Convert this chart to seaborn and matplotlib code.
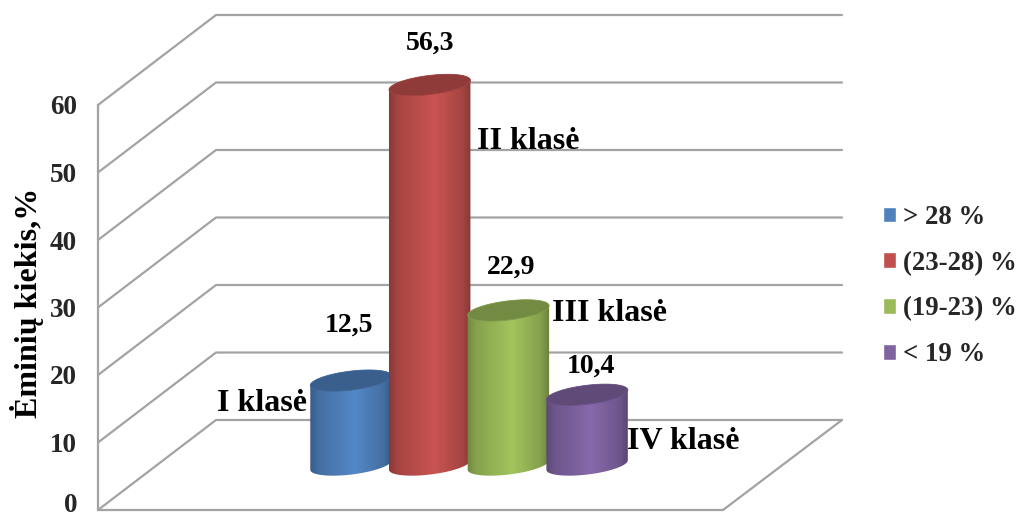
import numpy as np
import pandas as pd
import seaborn as sns
import matplotlib.pyplot as plt
from matplotlib.colors import to_rgb
from matplotlib.patches import Polygon
from matplotlib.transforms import ScaledTranslation

# Chart data
classes = ["I klasė", "II klasė", "III klasė", "IV klasė"]
ranges = ["> 28 %", "(23-28) %", "(19-23) %", "< 19 %"]
values = [12.5, 56.3, 22.9, 10.4]
value_labels = ["12,5", "56,3", "22,9", "10,4"]
colors = ["#4F81BD", "#C0504D", "#9BBB59", "#8064A2"]
y_ticks = [0, 10, 20, 30, 40, 50, 60]

# Pixel layout of the fake 3D box
W, H = 1018, 519
PX_X = 78.7  # pixels per category
PX_Y = 6.75  # pixels per percent
X0 = 351  # pixel of first bar centre
Y0 = 465  # pixel of value 0 in the bar plane
DEPTH_Y = 45 / PX_Y
GRID = "#a3a3a3"

# offsets of the text from the bar top centre, in pixels
value_offsets = [(-2, 55), (0, 42), (3, 43), (4, 29)]
class_offsets = [(-44, -23), (47, -57), (44, -3), (40, -47)]
class_aligns = ["right", "left", "left", "left"]


def to_x(px):
    return (px - X0) / PX_X


sns.set_theme(style="white")
plt.rcParams["font.family"] = ["Liberation Serif", "DejaVu Serif"]
plt.rcParams["font.weight"] = "bold"
plt.rcParams["axes.labelweight"] = "bold"

fig = plt.figure(figsize=(W / 100, H / 100), dpi=100)
ax = fig.add_axes([0, 0, 1, 1])

df = pd.DataFrame({"klase": classes, "range": ranges, "value": values})
sns.barplot(
    data=df,
    x="klase",
    y="value",
    hue="range",
    palette=colors,
    dodge=False,
    width=1.03,
    saturation=1,
    ax=ax,
)
sns.move_legend(
    ax,
    "upper left",
    bbox_to_anchor=(872 / W, 1 - 194 / H),
    bbox_transform=fig.transFigure,
    title=None,
    frameon=False,
    fontsize=19.3,
    handlelength=0.5,
    handleheight=0.5,
    handletextpad=0.25,
    labelspacing=0.78,
    borderaxespad=0,
)

# Back wall and floor
for v in y_ticks:
    ax.plot(
        [to_x(98), to_x(216), to_x(842)],
        [v - DEPTH_Y, v + DEPTH_Y, v + DEPTH_Y],
        color=GRID,
        lw=1.6,
        zorder=0.5,
    )
ax.plot(
    [to_x(842), to_x(723), to_x(98)],
    [DEPTH_Y, -DEPTH_Y, -DEPTH_Y],
    color=GRID,
    lw=1.6,
    zorder=0.5,
)

# Turn the flat bars into shaded cylinders
a, b, tilt = 41.0, 9.5, np.radians(7)
t_right = np.arctan2(-b * np.sin(tilt), a * np.cos(tilt))


def ellipse(t, xc, yc):
    dx = a * np.cos(t) * np.cos(tilt) - b * np.sin(t) * np.sin(tilt)
    dy = a * np.cos(t) * np.sin(tilt) + b * np.sin(t) * np.cos(tilt)
    return np.column_stack([xc + dx / PX_X, yc + dy / PX_Y])


shade_pos = [0, 0.12, 0.55, 0.88, 1]
shade_val = [0.68, 0.86, 1.05, 0.86, 0.66]
grad_x = np.linspace(0, 1, 200)

for i, bar in enumerate(ax.patches[: len(values)]):
    xc = bar.get_x() + bar.get_width() / 2
    top = bar.get_height()
    bar.set_visible(False)
    rgb = np.array(to_rgb(colors[i]))
    factor = np.interp(grad_x, shade_pos, shade_val)[None, :, None]
    img = np.clip(rgb[None, None, :] * factor, 0, 1)

    half_w = (a + 2) / PX_X
    body = ax.imshow(
        img,
        extent=[xc - half_w, xc + half_w, -15 / PX_Y * 2, top + 15 / PX_Y],
        aspect="auto",
        interpolation="bilinear",
        zorder=2 + i,
    )
    lower = ellipse(np.linspace(t_right - np.pi, t_right, 60), xc, 0)
    upper = ellipse(np.linspace(t_right, t_right + np.pi, 60), xc, top)
    clip = Polygon(np.vstack([lower, upper]), transform=ax.transData)
    body.set_clip_path(clip)

    cap = ellipse(np.linspace(0, 2 * np.pi, 120), xc, top)
    ax.add_patch(
        Polygon(cap, closed=True, facecolor=rgb * 0.74, edgecolor=rgb * 0.84, lw=0.6, zorder=2 + i + 0.1)
    )

    ax.text(
        xc + value_offsets[i][0] / PX_X,
        top + value_offsets[i][1] / PX_Y,
        value_labels[i],
        ha="center",
        va="center",
        fontsize=20,
        color="black",
        zorder=10,
    )
    ax.text(
        xc + class_offsets[i][0] / PX_X,
        top + class_offsets[i][1] / PX_Y,
        classes[i],
        ha=class_aligns[i],
        va="center",
        fontsize=23,
        color="black",
        zorder=10,
    )

ax.set_xlim(to_x(0), to_x(W))
ax.set_ylim((Y0 - H) / PX_Y, Y0 / PX_Y)
ax.axis("off")

# Front value axis
ax_front = fig.add_axes([98 / W, 1 - 510 / H, 1 / W, 405 / H], facecolor="none")
ax_front.set_ylim(0, 60)
ax_front.set_yticks(y_ticks)
ax_front.set_xticks([])
ax_front.tick_params(axis="y", direction="out", length=5, width=1.6, color=GRID, labelsize=19.5, pad=10)
for side in ["top", "right", "bottom"]:
    ax_front.spines[side].set_visible(False)
ax_front.spines["left"].set_color(GRID)
ax_front.spines["left"].set_linewidth(1.6)
# keep the zero label inside the picture
zero_label = ax_front.get_yticklabels()[0]
zero_label.set_transform(zero_label.get_transform() + ScaledTranslation(0, 7 / 100, fig.dpi_scale_trans))
fig.text(27 / W, 1 - 303 / H, "Ėminių kiekis,%", rotation=90, ha="center", va="center", fontsize=23, color="black")

fig.savefig("out.png", dpi=100)
